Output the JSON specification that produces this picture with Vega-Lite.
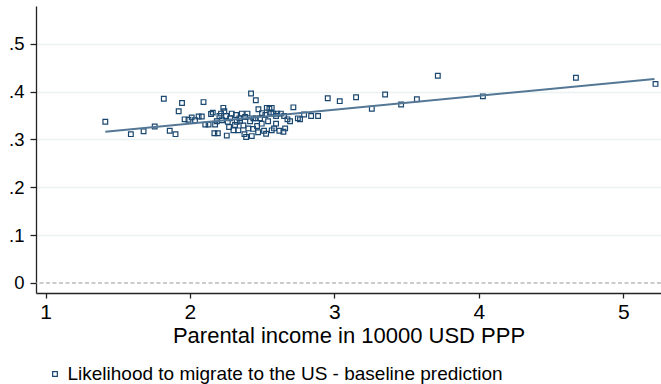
{
  "$schema": "https://vega.github.io/schema/vega-lite/v6.json",
  "autosize": "none",
  "width": 625,
  "height": 287,
  "padding": {"left": 36, "top": 6, "right": 0, "bottom": 91},
  "background": "white",
  "config": {
    "view": {"stroke": null},
    "font": "Liberation Sans",
    "axis": {
      "labelFont": "Liberation Sans",
      "titleFont": "Liberation Sans",
      "labelColor": "#000000",
      "titleColor": "#000000",
      "domainColor": "#222222",
      "tickColor": "#222222",
      "domainWidth": 1.3,
      "tickWidth": 1.3
    }
  },
  "datasets": {
    "schools": [
      {"income": 1.414, "p": 0.337}, {"income": 1.591, "p": 0.311}, {"income": 1.679, "p": 0.317},
      {"income": 1.756, "p": 0.327}, {"income": 1.819, "p": 0.385}, {"income": 1.860, "p": 0.318},
      {"income": 1.900, "p": 0.311}, {"income": 1.945, "p": 0.376}, {"income": 1.922, "p": 0.359},
      {"income": 1.963, "p": 0.342}, {"income": 1.990, "p": 0.341}, {"income": 2.012, "p": 0.346},
      {"income": 2.035, "p": 0.340}, {"income": 2.060, "p": 0.348}, {"income": 2.082, "p": 0.348},
      {"income": 2.094, "p": 0.378}, {"income": 2.106, "p": 0.331}, {"income": 2.129, "p": 0.331},
      {"income": 2.146, "p": 0.353}, {"income": 2.158, "p": 0.356}, {"income": 2.174, "p": 0.331},
      {"income": 2.169, "p": 0.313}, {"income": 2.193, "p": 0.313}, {"income": 2.186, "p": 0.338},
      {"income": 2.204, "p": 0.349}, {"income": 2.215, "p": 0.354}, {"income": 2.231, "p": 0.366},
      {"income": 2.238, "p": 0.359}, {"income": 2.250, "p": 0.349}, {"income": 2.255, "p": 0.308},
      {"income": 2.262, "p": 0.337}, {"income": 2.278, "p": 0.344}, {"income": 2.289, "p": 0.354},
      {"income": 2.301, "p": 0.319}, {"income": 2.312, "p": 0.330}, {"income": 2.324, "p": 0.337},
      {"income": 2.335, "p": 0.319}, {"income": 2.342, "p": 0.344}, {"income": 2.359, "p": 0.354},
      {"income": 2.370, "p": 0.329}, {"income": 2.377, "p": 0.311}, {"income": 2.389, "p": 0.305},
      {"income": 2.398, "p": 0.354}, {"income": 2.404, "p": 0.323}, {"income": 2.423, "p": 0.396},
      {"income": 2.428, "p": 0.307}, {"income": 2.439, "p": 0.344}, {"income": 2.456, "p": 0.382},
      {"income": 2.456, "p": 0.344}, {"income": 2.474, "p": 0.363}, {"income": 2.485, "p": 0.344},
      {"income": 2.497, "p": 0.333}, {"income": 2.513, "p": 0.318}, {"income": 2.522, "p": 0.351},
      {"income": 2.532, "p": 0.366}, {"income": 2.550, "p": 0.364}, {"income": 2.566, "p": 0.366},
      {"income": 2.562, "p": 0.356}, {"income": 2.578, "p": 0.354}, {"income": 2.566, "p": 0.319},
      {"income": 2.582, "p": 0.323}, {"income": 2.596, "p": 0.333}, {"income": 2.605, "p": 0.354},
      {"income": 2.619, "p": 0.318}, {"income": 2.629, "p": 0.354}, {"income": 2.647, "p": 0.316},
      {"income": 2.659, "p": 0.323}, {"income": 2.675, "p": 0.342}, {"income": 2.693, "p": 0.338},
      {"income": 2.716, "p": 0.367}, {"income": 2.747, "p": 0.344}, {"income": 2.790, "p": 0.352},
      {"income": 2.839, "p": 0.349}, {"income": 2.887, "p": 0.349}, {"income": 2.954, "p": 0.386},
      {"income": 3.037, "p": 0.380}, {"income": 3.150, "p": 0.388}, {"income": 3.259, "p": 0.364},
      {"income": 3.351, "p": 0.394}, {"income": 3.462, "p": 0.373}, {"income": 3.571, "p": 0.384},
      {"income": 3.716, "p": 0.433}, {"income": 4.028, "p": 0.390}, {"income": 4.672, "p": 0.429},
      {"income": 5.223, "p": 0.416}, {"income": 2.347, "p": 0.339}, {"income": 2.416, "p": 0.338},
      {"income": 2.465, "p": 0.328}, {"income": 2.499, "p": 0.355}, {"income": 2.541, "p": 0.338},
      {"income": 2.382, "p": 0.347}, {"income": 2.319, "p": 0.351}, {"income": 2.271, "p": 0.326},
      {"income": 2.222, "p": 0.340}, {"income": 2.762, "p": 0.342}, {"income": 2.527, "p": 0.312},
      {"income": 2.472, "p": 0.315}, {"income": 2.437, "p": 0.322}, {"income": 2.596, "p": 0.349},
      {"income": 2.652, "p": 0.349}
    ],
    "fit": [
      {"income": 1.414, "p": 0.316},
      {"income": 5.216, "p": 0.4265}
    ],
    "zero": [
      {"p": 0}
    ]
  },
  "layer": [
    {
      "data": {"name": "schools"},
      "transform": [{"calculate": "'Likelihood to migrate to the US - baseline prediction'", "as": "series"}],
      "mark": {"type": "point", "shape": "square", "filled": false, "size": 22, "strokeWidth": 1.2, "opacity": 1},
      "encoding": {
        "x": {
          "field": "income",
          "type": "quantitative",
          "scale": {"domain": [0.9342, 5.261], "nice": false, "zero": false},
          "axis": {
            "values": [1, 2, 3, 4, 5],
            "format": "d",
            "grid": false,
            "tickSize": 5,
            "labelFontSize": 21,
            "labelBaseline": "alphabetic",
            "labelPadding": 20,
            "title": "Parental income in 10000 USD PPP",
            "titleFontSize": 22,
            "titleFontWeight": "normal",
            "titleBaseline": "alphabetic",
            "titleY": 49.4
          }
        },
        "y": {
          "field": "p",
          "type": "quantitative",
          "scale": {"domain": [-0.0209, 0.5788], "nice": false, "zero": false},
          "axis": {
            "values": [0, 0.1, 0.2, 0.3, 0.4, 0.5],
            "labelExpr": "datum.value == 0 ? '0' : replace(format(datum.value, '.1f'), '0.', '.')",
            "grid": true,
            "gridColor": "#eaf2f3",
            "gridWidth": 1.5,
            "gridOpacity": {"condition": {"test": "datum.value === 0", "value": 0}, "value": 1},
            "tickSize": 6,
            "labelFontSize": 18.5,
            "labelPadding": 6,
            "title": null
          }
        },
        "color": {
          "field": "series",
          "type": "nominal",
          "scale": {"range": ["#1a476f"]},
          "legend": {
            "title": null,
            "orient": "none",
            "legendX": 9.5,
            "legendY": 358.5,
            "padding": 0,
            "symbolType": "square",
            "symbolSize": 22,
            "symbolStrokeWidth": 1.2,
            "labelFont": "Liberation Sans",
            "labelFontSize": 19,
            "labelColor": "#000000",
            "labelOffset": 3,
            "labelLimit": 0
          }
        }
      }
    },
    {
      "data": {"name": "zero"},
      "mark": {"type": "rule", "color": "#999999", "strokeWidth": 1, "strokeDash": [4, 2.5]},
      "encoding": {"y": {"field": "p", "type": "quantitative"}}
    },
    {
      "data": {"name": "fit"},
      "mark": {"type": "line", "color": "#557796", "strokeWidth": 2},
      "encoding": {
        "x": {"field": "income", "type": "quantitative"},
        "y": {"field": "p", "type": "quantitative"}
      }
    }
  ]
}
